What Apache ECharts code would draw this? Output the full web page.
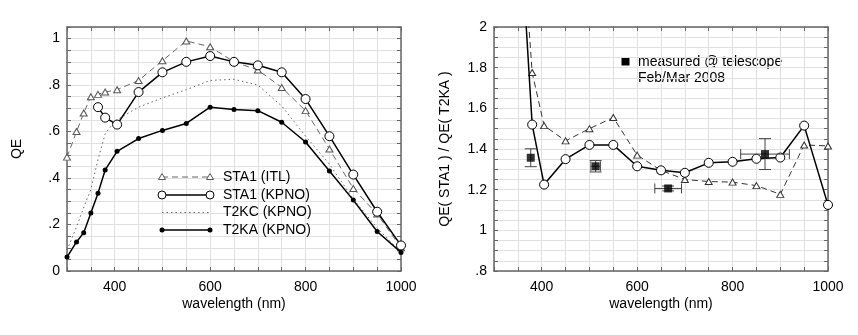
<!DOCTYPE html>
<html>
<head>
<meta charset="utf-8">
<script src="https://cdn.jsdelivr.net/npm/echarts@6/dist/echarts.min.js"></script>
<style>html,body{margin:0;padding:0;background:#fff}#c{width:858px;height:335px}</style>
</head>
<body>
<div id="c"></div>
<script>
// ---- Left panel: QE curves ----
const wl_ITL  = [300,320,335,350,365,380,405,450,500,550,600,650,700,750,800,850,900,950,1000];
const qe_ITL  = [0.49,0.60,0.68,0.75,0.76,0.77,0.78,0.82,0.905,0.99,0.965,0.90,0.865,0.79,0.69,0.525,0.355,0.245,0.10];
const wl_KPNO = [365,380,405,450,500,550,600,650,700,750,800,850,900,950,1000];
const qe_KPNO = [0.705,0.66,0.63,0.77,0.855,0.90,0.925,0.90,0.885,0.855,0.74,0.58,0.415,0.255,0.11];
const wl_T2KC = [300,320,340,350,365,380,400,450,500,550,600,650,700,750,800,850,900,950,1000];
const qe_T2KC = [0.09,0.19,0.30,0.35,0.48,0.59,0.645,0.705,0.745,0.78,0.82,0.825,0.80,0.71,0.58,0.46,0.31,0.185,0.08];
const wl_T2KA = [300,320,335,350,365,380,405,450,500,550,600,650,700,750,800,850,900,950,1000];
const qe_T2KA = [0.06,0.125,0.165,0.25,0.335,0.435,0.515,0.57,0.605,0.635,0.705,0.695,0.69,0.64,0.555,0.43,0.305,0.17,0.08];
const legendNames = ['STA1 (ITL)','STA1 (KPNO)','T2KC (KPNO)','T2KA (KPNO)'];

// ---- Right panel: ratios ----
const wl_ratio   = [365,380,405,450,500,550,600,650,700,750,800,850,900,950,1000];
const ratio_ITL  = [2.27,1.776,1.515,1.44,1.50,1.555,1.37,1.295,1.25,1.24,1.237,1.22,1.177,1.42,1.415];
const ratio_KPNO = [2.10,1.52,1.225,1.35,1.42,1.42,1.315,1.295,1.283,1.332,1.337,1.352,1.358,1.515,1.125];
const meas_wl       = [377,513,665,868];
const meas_ratio    = [1.357,1.315,1.206,1.375];
const meas_wlErr    = [0,10,28,51];
const meas_ratioErr = [0.044,0.028,0.012,0.076];
const measLabel = ['measured @ telescope','Feb/Mar 2008'];

const xTitle = 'wavelength (nm)';
const yTitleL = 'QE';
const yTitleR = 'QE( STA1 ) / QE( T2KA )';

const FONT = 'Liberation Sans, Arial, Helvetica, sans-serif';
const pairs = (a,b) => a.map((v,i)=>[v,b[i]]);

const axisCol = '#666';
function xAx(grid, pos) {
  return {
    type:'value', gridIndex:grid, position:pos, min:300, max:1000, interval:50,
    axisLine:{show:true, onZero:false, lineStyle:{color:axisCol, width:1.5}},
    axisTick:{show:true, inside:true, length:4, lineStyle:{color:axisCol}},
    axisLabel:{show:pos==='bottom', margin:9, color:'#000', fontFamily:FONT, fontSize:14,
      formatter:v => (v%200===0 && v>300) ? String(v) : ''},
    splitLine:{show:pos==='bottom', lineStyle:{color:'#e0e0e0', width:1}}
  };
}
function yAx(grid, pos, min, max, fmt) {
  return {
    type:'value', gridIndex:grid, position:pos, min:min, max:max, interval:0.05,
    axisLine:{show:true, onZero:false, lineStyle:{color:axisCol, width:1.5}},
    axisTick:{show:true, inside:true, length:4, lineStyle:{color:axisCol}},
    axisLabel:{show:pos==='left', margin:7, color:'#000', fontFamily:FONT, fontSize:14, formatter:fmt},
    splitLine:{show:pos==='left', lineStyle:{color:'#e0e0e0', width:1}}
  };
}
const fmtL = v => { const k=Math.round(v*100); if (k%20) return ''; if (k===0) return '0'; if (k===100) return '1'; return '.'+(k/10); };
const fmtR = v => { const k=Math.round(v*100); if (k%20) return ''; if (k===80) return '.8'; if (k===100) return '1'; if (k===200) return '2'; return (k/100).toFixed(1); };

const chart = echarts.init(document.getElementById('c'), null, {renderer:'canvas'});

// legend graphic (left panel)
const legY = [177, 195, 212.5, 230];
const legX1 = 162, legX2 = 210;
const gLeg = [];
legY.forEach((y,i)=>{
  const ls = [
    {stroke:'#666', lineWidth:1, lineDash:[6,4]},
    {stroke:'#000', lineWidth:1.5},
    {stroke:'#666', lineWidth:1, lineDash:[1.5,3]},
    {stroke:'#000', lineWidth:1.5}
  ][i];
  gLeg.push({type:'line', shape:{x1:legX1,y1:y,x2:legX2,y2:y}, style:ls, z:10});
  [legX1, legX2].forEach(x=>{
    if (i===0) gLeg.push({type:'polygon', shape:{points:[[x,y-3.5],[x-3.5,y+2.5],[x+3.5,y+2.5]]}, style:{fill:'#fff', stroke:'#555', lineWidth:1}, z:11});
    if (i===1) gLeg.push({type:'circle', shape:{cx:x,cy:y,r:4}, style:{fill:'#fff', stroke:'#000', lineWidth:1}, z:11});
    if (i===3) gLeg.push({type:'circle', shape:{cx:x,cy:y,r:2.5}, style:{fill:'#000'}, z:11});
  });
  gLeg.push({type:'text', x:223, y:y, style:{text:legendNames[i], fill:'#000', font:'14px '+FONT, textVerticalAlign:'middle'}, z:11});
});

const option = {
  animation:false,
  backgroundColor:'#fff',
  grid:[
    {left:67, top:27, width:334, height:244},
    {left:494, top:27, width:334, height:244}
  ],
  xAxis:[ xAx(0,'bottom'), xAx(0,'top'), xAx(1,'bottom'), xAx(1,'top') ],
  yAxis:[ yAx(0,'left',0,1.05,fmtL), yAx(0,'right',0,1.05,fmtL), yAx(1,'left',0.8,2,fmtR), yAx(1,'right',0.8,2,fmtR) ],
  series:[
    {type:'line', name:legendNames[0], xAxisIndex:0, yAxisIndex:0, data:pairs(wl_ITL,qe_ITL),
      symbol:'triangle', symbolSize:[7,6], lineStyle:{color:'#666', width:1, type:[6,4]},
      itemStyle:{color:'#fff', borderColor:'#555', borderWidth:1}, z:3},
    {type:'line', name:legendNames[2], xAxisIndex:0, yAxisIndex:0, data:pairs(wl_T2KC,qe_T2KC),
      showSymbol:false, symbol:'none', lineStyle:{color:'#666', width:1, type:[1.5,3]}, z:2},
    {type:'line', name:legendNames[1], xAxisIndex:0, yAxisIndex:0, data:pairs(wl_KPNO,qe_KPNO),
      symbol:'circle', symbolSize:9, lineStyle:{color:'#000', width:1.5},
      itemStyle:{color:'#fff', borderColor:'#000', borderWidth:1}, z:4},
    {type:'line', name:legendNames[3], xAxisIndex:0, yAxisIndex:0, data:pairs(wl_T2KA,qe_T2KA),
      symbol:'circle', symbolSize:5, lineStyle:{color:'#000', width:1.5}, itemStyle:{color:'#000'}, z:4},

    {type:'line', xAxisIndex:2, yAxisIndex:2, data:pairs(wl_ratio,ratio_ITL), clip:true,
      symbol:'triangle', symbolSize:[7,6], lineStyle:{color:'#333', width:1, type:[6,4]},
      itemStyle:{color:'#fff', borderColor:'#333', borderWidth:1}, z:3},
    {type:'line', xAxisIndex:2, yAxisIndex:2, data:pairs(wl_ratio,ratio_KPNO), clip:true,
      symbol:'circle', symbolSize:9, lineStyle:{color:'#000', width:1.5},
      itemStyle:{color:'#fff', borderColor:'#000', borderWidth:1}, z:4},
    {type:'custom', xAxisIndex:2, yAxisIndex:2, z:5,
      data: meas_wl.map((w,i)=>[w, meas_ratio[i], meas_wlErr[i], meas_ratioErr[i]]),
      encode:{x:0, y:1},
      renderItem:(params, api)=>{
        const x=api.value(0), y=api.value(1), ex=api.value(2), ey=api.value(3);
        const st = {stroke:'#444', lineWidth:1};
        const ch = [];
        if (ey>0) {
          const t=api.coord([x,y+ey]), b=api.coord([x,y-ey]);
          ch.push({type:'line', shape:{x1:t[0],y1:t[1],x2:b[0],y2:b[1]}, style:st});
          ch.push({type:'line', shape:{x1:t[0]-6,y1:t[1],x2:t[0]+6,y2:t[1]}, style:st});
          ch.push({type:'line', shape:{x1:b[0]-6,y1:b[1],x2:b[0]+6,y2:b[1]}, style:st});
        }
        if (ex>0) {
          const l=api.coord([x-ex,y]), r=api.coord([x+ex,y]);
          ch.push({type:'line', shape:{x1:l[0],y1:l[1],x2:r[0],y2:r[1]}, style:st});
          ch.push({type:'line', shape:{x1:l[0],y1:l[1]-5,x2:l[0],y2:l[1]+5}, style:st});
          ch.push({type:'line', shape:{x1:r[0],y1:r[1]-5,x2:r[0],y2:r[1]+5}, style:st});
        }
        return {type:'group', children:ch};
      }},
    {type:'scatter', xAxisIndex:2, yAxisIndex:2, data:pairs(meas_wl,meas_ratio),
      symbol:'rect', symbolSize:8, itemStyle:{color:'#000'}, z:6}
  ],
  graphic:[
    ...gLeg,
    {type:'text', x:17, y:149, rotation:Math.PI/2, style:{text:yTitleL, fill:'#000', font:'14px '+FONT, textAlign:'center', textVerticalAlign:'middle'}},
    {type:'text', x:445, y:149, rotation:Math.PI/2, style:{text:yTitleR, fill:'#000', font:'14px '+FONT, textAlign:'center', textVerticalAlign:'middle'}},
    {type:'text', x:234, y:304, style:{text:xTitle, fill:'#000', font:'14px '+FONT, textAlign:'center', textVerticalAlign:'middle'}},
    {type:'text', x:661, y:304, style:{text:xTitle, fill:'#000', font:'14px '+FONT, textAlign:'center', textVerticalAlign:'middle'}},
    {type:'rect', shape:{x:621.5, y:57.5, width:8, height:8}, style:{fill:'#000'}},
    {type:'text', x:638, y:62, style:{text:measLabel[0], fill:'#000', font:'14px '+FONT, textVerticalAlign:'middle'}},
    {type:'text', x:638, y:78, style:{text:measLabel[1], fill:'#000', font:'14px '+FONT, textVerticalAlign:'middle'}}
  ]
};
chart.setOption(option);
</script>
</body>
</html>
